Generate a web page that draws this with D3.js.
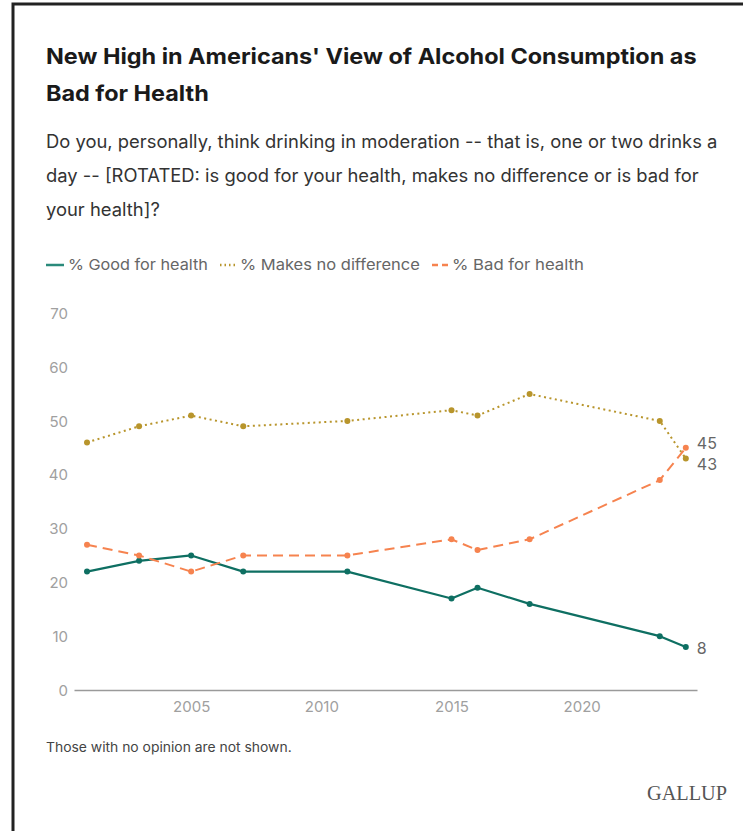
<!DOCTYPE html>
<html>
<head>
<meta charset="utf-8">
<script src="https://cdn.jsdelivr.net/npm/d3@7"></script>
<style>
  html, body { margin: 0; padding: 0; background: #fff; }
  svg { display: block; }
</style>
</head>
<body>
<svg id="chart" width="743" height="831"></svg>
<script>
const years = [2001, 2003, 2005, 2007, 2011, 2015, 2016, 2018, 2023, 2024];
const goodForHealth = [22, 24, 25, 22, 22, 17, 19, 16, 10, 8];
const noDifference = [46, 49, 51, 49, 50, 52, 51, 55, 50, 43];
const badForHealth = [27, 25, 22, 25, 25, 28, 26, 28, 39, 45];
const yTicks = [0, 10, 20, 30, 40, 50, 60, 70];
const xTicks = [2005, 2010, 2015, 2020];
const seriesNames = ["% Good for health", "% Makes no difference", "% Bad for health"];
const titleLines = ["New High in Americans' View of Alcohol Consumption as", "Bad for Health"];
const subtitleLines = [
  "Do you, personally, think drinking in moderation -- that is, one or two drinks a",
  "day -- [ROTATED: is good for your health, makes no difference or is bad for",
  "your health]?"
];
const footnote = "Those with no opinion are not shown.";
const brand = "GALLUP";

const svg = d3.select("#chart");
const font = "Inter, 'Open Sans', 'Noto Sans', sans-serif";

// frame
svg.append("path")
  .attr("d", "M13,840 L13,4 L760,4")
  .attr("fill", "none").attr("stroke", "#222").attr("stroke-width", 3);

// horizontally condense text so it spans the target width (returns scale)
function squeeze(sel, target, sx) {
  const node = sel.node();
  const w = node.getComputedTextLength();
  if (sx == null) sx = w > 0 ? target / w : 1;
  const x0 = +sel.attr("x");
  sel.attr("transform", `translate(${x0},0) scale(${sx},1) translate(${-x0},0)`);
  return sx;
}

// title
let tsx;
titleLines.forEach((t, i) => {
  const s = svg.append("text").attr("x", 46).attr("y", 64 + i * 37)
    .attr("font-family", font).attr("font-weight", 700).attr("font-size", 21.5)
    .attr("fill", "#1a1a1a").text(t);
  tsx = squeeze(s, 651, i === 0 ? null : tsx);
});

// subtitle
let ssx;
subtitleLines.forEach((t, i) => {
  const s = svg.append("text").attr("x", 46).attr("y", 148 + i * 34)
    .attr("font-family", font).attr("font-size", 18)
    .attr("fill", "#333").text(t);
  ssx = squeeze(s, 672, i === 0 ? null : ssx);
});

// scales
const x = d3.scaleLinear().domain([2000.5, 2024.43]).range([74, 697]);
const y = d3.scaleLinear().domain([0, 70]).range([690, 313.3]);

const colors = ["#0e6f62", "#b8952c", "#f6834f"];
const dashes = [null, "2,3.5", "10,6"];
const widths = [2.2, 2, 2];
const data = [goodForHealth, noDifference, badForHealth];

// legend
const legendItems = [
  { x: 46, lineW: 18, textX: 68 },
  { x: 220, lineW: 16, textX: 240 },
  { x: 432, lineW: 16, textX: 452 }
];
const legTargets = [140, 180, 132];
seriesNames.forEach((n, i) => {
  const li = legendItems[i];
  svg.append("line").attr("x1", li.x).attr("x2", li.x + li.lineW)
    .attr("y1", 265).attr("y2", 265)
    .attr("stroke", i === 0 ? "#2a8a7b" : colors[i]).attr("stroke-width", 2.5)
    .attr("stroke-dasharray", i === 1 ? "1.5,3" : (i === 2 ? "6,4" : null));
  const s = svg.append("text").attr("x", li.textX).attr("y", 270.5)
    .attr("font-family", font).attr("font-size", 15).attr("fill", "#666").text(n);
  squeeze(s, legTargets[i]);
});

// y axis labels
const yAxis = d3.axisLeft(y).tickValues(yTicks).tickSize(0).tickPadding(0);
const gy = svg.append("g").attr("transform", "translate(68,0)").call(yAxis);
gy.select(".domain").remove();
gy.selectAll("text").attr("font-family", font).attr("font-size", 15).attr("fill", "#a0a0a0").attr("dy", "0.35em");

// x axis
const xAxis = d3.axisBottom(x).tickValues(xTicks).tickFormat(d3.format("d")).tickSize(0).tickPadding(11);
const gx = svg.append("g").attr("transform", "translate(0,690)").call(xAxis);
gx.select(".domain").attr("stroke", "#9a9a9a").attr("stroke-width", 1.6);
gx.selectAll("text").attr("font-family", font).attr("font-size", 15).attr("fill", "#a0a0a0");

// lines
const line = d3.line().x((d, i) => x(years[i])).y(d => y(d));
data.forEach((vals, i) => {
  svg.append("path").datum(vals).attr("d", line)
    .attr("fill", "none").attr("stroke", colors[i]).attr("stroke-width", widths[i])
    .attr("stroke-dasharray", dashes[i]).attr("stroke-linejoin", "round");
  svg.append("g").selectAll("circle").data(vals).join("circle")
    .attr("cx", (d, j) => x(years[j])).attr("cy", d => y(d))
    .attr("r", 3).attr("fill", colors[i]);
});

// end labels
const last = years.length - 1;
const endLabels = [
  { v: goodForHealth[last], dy: 1 },
  { v: noDifference[last], dy: 6 },
  { v: badForHealth[last], dy: -4 }
];
endLabels.forEach(l => {
  svg.append("text").attr("x", x(years[last]) + 11).attr("y", y(l.v) + l.dy)
    .attr("dy", "0.35em").attr("font-family", font).attr("font-size", 16)
    .attr("fill", "#666").text(l.v);
});

// footnote
const fn = svg.append("text").attr("x", 46).attr("y", 752)
  .attr("font-family", font).attr("font-size", 13).attr("fill", "#444").text(footnote);
squeeze(fn, 246);

// brand
const br = svg.append("text").attr("x", 647).attr("y", 800)
  .attr("font-family", "'Liberation Serif', 'DejaVu Serif', serif").attr("font-size", 20)
  .attr("fill", "#555").text(brand);
squeeze(br, 80);
</script>
</body>
</html>
